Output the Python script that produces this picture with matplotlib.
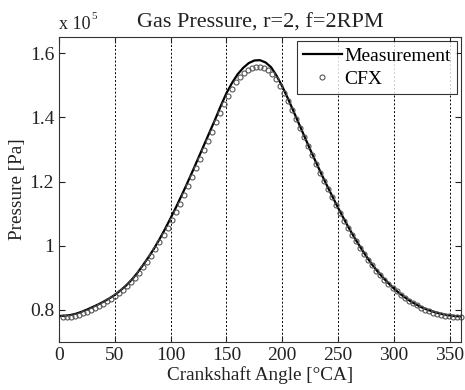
import numpy as np
import matplotlib.pyplot as plt
from matplotlib.ticker import FuncFormatter

plt.rcParams['font.family'] = ['Liberation Serif', 'DejaVu Serif']

# Measurement, every 5 deg (pressure in 1e5 Pa)
meas_angle = np.arange(0, 361, 5)
meas_p = [0.780, 0.781, 0.783, 0.787, 0.793, 0.800, 0.808, 0.816, 0.825, 0.835,
          0.846, 0.860, 0.875, 0.893, 0.914, 0.938, 0.963, 0.990, 1.020, 1.052,
          1.086, 1.121, 1.158, 1.196, 1.235, 1.275, 1.315, 1.355, 1.395, 1.437,
          1.476, 1.508, 1.535, 1.555, 1.570, 1.578, 1.579, 1.572, 1.557, 1.530,
          1.497, 1.460, 1.420, 1.380, 1.340, 1.300, 1.262, 1.224, 1.188, 1.153,
          1.118, 1.085, 1.053, 1.023, 0.995, 0.968, 0.943, 0.921, 0.901, 0.883,
          0.866, 0.851, 0.838, 0.826, 0.816, 0.807, 0.800, 0.794, 0.789, 0.785,
          0.782, 0.780, 0.779]

# CFX result, 100 samples
cfx_angle = np.linspace(3.6, 360, 100)
cfx_p = [0.776, 0.776, 0.778, 0.780, 0.784, 0.789, 0.794, 0.800, 0.806, 0.812,
         0.819, 0.826, 0.834, 0.842, 0.852, 0.862, 0.873, 0.885, 0.899, 0.915,
         0.932, 0.950, 0.969, 0.989, 1.010, 1.033, 1.056, 1.080, 1.105, 1.131,
         1.158, 1.185, 1.213, 1.241, 1.270, 1.299, 1.328, 1.356, 1.385, 1.414,
         1.442, 1.467, 1.490, 1.510, 1.526, 1.539, 1.549, 1.555, 1.558, 1.558,
         1.555, 1.548, 1.537, 1.520, 1.499, 1.476, 1.450, 1.423, 1.395, 1.367,
         1.339, 1.310, 1.282, 1.255, 1.228, 1.202, 1.176, 1.151, 1.126, 1.102,
         1.078, 1.056, 1.034, 1.013, 0.993, 0.974, 0.956, 0.938, 0.922, 0.907,
         0.893, 0.880, 0.868, 0.857, 0.846, 0.837, 0.828, 0.820, 0.813, 0.806,
         0.800, 0.795, 0.791, 0.787, 0.784, 0.781, 0.779, 0.778, 0.777, 0.777]

xticks = [0, 50, 100, 150, 200, 250, 300, 350]
yticks = [0.8, 1.0, 1.2, 1.4, 1.6]

fig = plt.figure(figsize=(4.65, 3.9), dpi=100)
ax = fig.add_axes([0.127, 0.124, 0.864, 0.780])

ax.plot(meas_angle, meas_p, color='black', lw=1.6, label='Measurement')
ax.plot(cfx_angle, cfx_p, ls='none', marker='o', ms=3.6, mfc='none',
        mec='#555555', mew=0.8, label='CFX', clip_on=False)

ax.set_xlim(0, 360)
ax.set_ylim(0.7, 1.65)
ax.set_xticks(xticks)
ax.set_yticks(yticks)
ax.yaxis.set_major_formatter(FuncFormatter(lambda v, p: '%g' % v))
ax.xaxis.grid(True, ls=(0, (2, 2)), color='black', lw=0.7)
ax.tick_params(direction='in', top=True, right=True, labelsize=14,
               colors='#222222', length=4)
for s in ax.spines.values():
    s.set_color('#333333')

ax.set_xlabel('Crankshaft Angle [°CA]', fontsize=13.8, color='#222222', labelpad=2)
ax.set_ylabel('Pressure [Pa]', fontsize=13.8, color='#222222', labelpad=3)
ax.set_title('Gas Pressure, r=2, f=2RPM', fontsize=16, color='#222222', pad=7)
ax.text(0, 1.015, 'x 10', transform=ax.transAxes, fontsize=13,
        color='#222222', ha='left', va='bottom')
ax.text(0.081, 1.055, '5', transform=ax.transAxes, fontsize=8,
        color='#222222', ha='left', va='bottom')

leg = ax.legend(loc='upper right', fontsize=14, frameon=True, fancybox=False,
                borderaxespad=0.2, handlelength=2.0, handletextpad=0.15,
                borderpad=0.3, labelspacing=0.3)
leg.get_frame().set_edgecolor('black')
leg.get_frame().set_linewidth(0.8)

fig.savefig('out.png', dpi=100)
